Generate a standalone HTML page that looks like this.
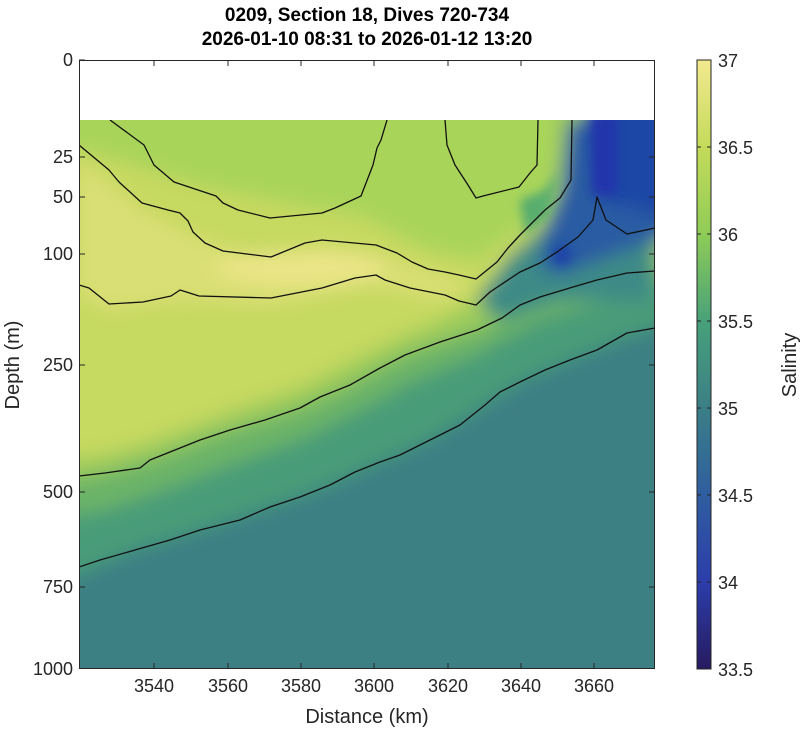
<!DOCTYPE html>
<html><head><meta charset="utf-8"><style>
body{margin:0;background:#fff;}
svg{display:block;font-family:"Liberation Sans",sans-serif;}
</style></head><body>
<svg width="800" height="729" viewBox="0 0 800 729" xmlns="http://www.w3.org/2000/svg">
<defs>
<clipPath id="cp"><rect x="79" y="120" width="576" height="549"/></clipPath>
<filter id="b1" x="-20%" y="-20%" width="140%" height="140%"><feGaussianBlur stdDeviation="9"/></filter>
<filter id="b2" x="-20%" y="-20%" width="140%" height="140%"><feGaussianBlur stdDeviation="5"/></filter>
<linearGradient id="cb" x1="0" y1="0" x2="0" y2="1">
<stop offset="0" stop-color="#f3e98f"/>
<stop offset="0.143" stop-color="#c4db5a"/>
<stop offset="0.286" stop-color="#8fcc57"/>
<stop offset="0.429" stop-color="#48a17a"/>
<stop offset="0.571" stop-color="#3b7f86"/>
<stop offset="0.714" stop-color="#2f5ea0"/>
<stop offset="0.857" stop-color="#2c3dab"/>
<stop offset="1" stop-color="#271b60"/>
</linearGradient>
</defs>
<rect width="800" height="729" fill="#fff"/>
<g clip-path="url(#cp)">
<rect x="60" y="100" width="620" height="600" fill="#3d8084"/>
<g filter="url(#b1)">
<polygon fill="#4a9c78" points="40,100 700,100 700,320 655,328 620,340 570,360 520,382 485,405 430,440 380,462 330,485 270,507 200,530 135,550 79,575 40,585"/>
<polygon fill="#6cb468" points="40,100 700,100 700,285 630,295 590,305 540,320 502,340 476,355 440,370 405,385 380,400 350,415 300,440 230,465 150,495 105,510 40,520"/>
<polygon fill="#9ccb5c" points="40,100 700,100 700,268 630,272 590,285 540,297 502,318 476,330 440,342 405,355 380,368 350,385 300,408 230,430 150,460 105,473 40,485"/>
<polygon fill="#c6d960" points="40,100 700,100 540,100 540,270 476,300 440,320 405,335 350,362 300,388 230,412 150,442 105,455 40,462"/>
<polygon fill="#a8d45a" points="40,100 560,100 560,190 540,215 476,260 430,250 360,215 300,205 200,185 120,160 40,140"/>
<polygon fill="#dadf74" points="79,160 142,210 190,235 270,262 322,245 376,252 430,272 476,285 440,300 376,285 322,295 271,305 180,300 109,310 79,295"/>
<ellipse cx="300" cy="268" rx="85" ry="16" fill="#ebe588"/>
<polygon fill="#3e8a86" points="476,300 508,258 540,230 572,200 600,220 655,240 655,300 560,300 500,320"/>
<polygon fill="#2a5ba3" points="545,230 560,190 568,120 700,120 700,235 655,240 600,260 560,275 540,268"/>
<polygon fill="#1f46a6" points="585,100 700,100 700,225 600,200"/>
</g>
<g filter="url(#b2)">
<rect x="592" y="115" width="25" height="80" fill="#2436ab"/>
<ellipse cx="562" cy="255" rx="10" ry="10" fill="#1e45a8"/>
<polygon fill="#58ad6e" points="520,200 545,190 560,170 548,215 525,235"/>
</g>
<g fill="none" stroke="#111" stroke-width="1.3" stroke-linejoin="round">
<polyline points="110,120 144,145 154,165 174,182 216,196 223,203 238,210 270,218 322,213 335,208 361,196 373,165 377,148 381,140 387,120"/>
<polyline points="445,120 447,145 455,165 468,185 476,198 483,196 519,187 530,173 537,165 538,120"/>
<polyline points="79,145 103,165 109,170 119,182 142,203 168,210 180,213 188,221 193,232 205,243 223,251 271,257 305,243 322,240 376,245 397,253 412,262 428,269 445,272 459,275 476,279 497,262 508,248 520,235 535,220 545,210 560,198 571,180 572,120"/>
<polyline points="79,285 89,288 109,304 143,302 171,296 180,290 199,296 271,298 322,288 355,278 376,275 385,280 410,288 445,295 459,301 476,305 490,292 520,272 540,263 557,252 578,237 593,220 597,197 606,220 627,234 655,228"/>
<polyline points="79,476 105,473 140,468 150,460 200,440 230,430 265,420 300,408 320,397 350,385 380,368 405,355 440,342 477,330 502,318 520,305 540,297 573,287 597,280 627,273 655,271"/>
<polyline points="79,567 100,560 135,550 170,540 200,530 240,520 270,507 300,497 330,485 355,472 380,462 400,455 430,440 460,425 485,405 500,392 520,382 545,370 570,360 597,350 627,333 655,328"/>
</g>
</g>
<rect x="79.5" y="60.5" width="575" height="608" fill="none" stroke="#262626" stroke-width="1"/>
<g stroke="#262626" stroke-width="1">
<line x1="79" y1="60" x2="85" y2="60"/><line x1="79" y1="157" x2="85" y2="157"/><line x1="79" y1="197" x2="85" y2="197"/><line x1="79" y1="254" x2="85" y2="254"/><line x1="79" y1="365" x2="85" y2="365"/><line x1="79" y1="492" x2="85" y2="492"/><line x1="79" y1="587" x2="85" y2="587"/>
<line x1="655" y1="157" x2="649" y2="157"/><line x1="655" y1="197" x2="649" y2="197"/><line x1="655" y1="254" x2="649" y2="254"/><line x1="655" y1="365" x2="649" y2="365"/><line x1="655" y1="492" x2="649" y2="492"/><line x1="655" y1="587" x2="649" y2="587"/>
<line x1="154" y1="669" x2="154" y2="663"/><line x1="228" y1="669" x2="228" y2="663"/><line x1="301" y1="669" x2="301" y2="663"/><line x1="374" y1="669" x2="374" y2="663"/><line x1="448" y1="669" x2="448" y2="663"/><line x1="521" y1="669" x2="521" y2="663"/><line x1="594" y1="669" x2="594" y2="663"/>
<line x1="154" y1="60" x2="154" y2="66"/><line x1="228" y1="60" x2="228" y2="66"/><line x1="301" y1="60" x2="301" y2="66"/><line x1="374" y1="60" x2="374" y2="66"/><line x1="448" y1="60" x2="448" y2="66"/><line x1="521" y1="60" x2="521" y2="66"/><line x1="594" y1="60" x2="594" y2="66"/>
</g>
<g font-size="18" fill="#262626" text-anchor="end">
<text x="73" y="66">0</text><text x="73" y="163">25</text><text x="73" y="203">50</text><text x="73" y="260">100</text><text x="73" y="371">250</text><text x="73" y="498">500</text><text x="73" y="593">750</text><text x="73" y="675">1000</text>
</g>
<g font-size="18" fill="#262626" text-anchor="middle">
<text x="154" y="692">3540</text><text x="228" y="692">3560</text><text x="301" y="692">3580</text><text x="374" y="692">3600</text><text x="448" y="692">3620</text><text x="521" y="692">3640</text><text x="594" y="692">3660</text>
</g>
<text x="367" y="723" font-size="20" fill="#262626" text-anchor="middle">Distance (km)</text>
<text transform="translate(19,365) rotate(-90)" font-size="20" fill="#262626" text-anchor="middle">Depth (m)</text>
<text x="367" y="21" font-size="19" font-weight="bold" fill="#000" text-anchor="middle">0209, Section 18, Dives 720-734</text>
<text x="367" y="45" font-size="19" font-weight="bold" fill="#000" text-anchor="middle">2026-01-10 08:31 to 2026-01-12 13:20</text>
<rect x="697" y="60" width="14" height="609" fill="url(#cb)" stroke="#262626" stroke-width="1"/>
<g stroke="#262626" stroke-width="1">
<line x1="697" y1="147" x2="701" y2="147"/><line x1="707" y1="147" x2="711" y2="147"/>
<line x1="697" y1="234" x2="701" y2="234"/><line x1="707" y1="234" x2="711" y2="234"/>
<line x1="697" y1="321" x2="701" y2="321"/><line x1="707" y1="321" x2="711" y2="321"/>
<line x1="697" y1="408" x2="701" y2="408"/><line x1="707" y1="408" x2="711" y2="408"/>
<line x1="697" y1="495" x2="701" y2="495"/><line x1="707" y1="495" x2="711" y2="495"/>
<line x1="697" y1="582" x2="701" y2="582"/><line x1="707" y1="582" x2="711" y2="582"/>
</g>
<g font-size="18" fill="#262626">
<text x="718" y="67">37</text><text x="718" y="154">36.5</text><text x="718" y="241">36</text><text x="718" y="328">35.5</text><text x="718" y="415">35</text><text x="718" y="502">34.5</text><text x="718" y="589">34</text><text x="718" y="676">33.5</text>
</g>
<text transform="translate(796,365) rotate(-90)" font-size="20" fill="#262626" text-anchor="middle">Salinity</text>
</svg>
</body></html>
